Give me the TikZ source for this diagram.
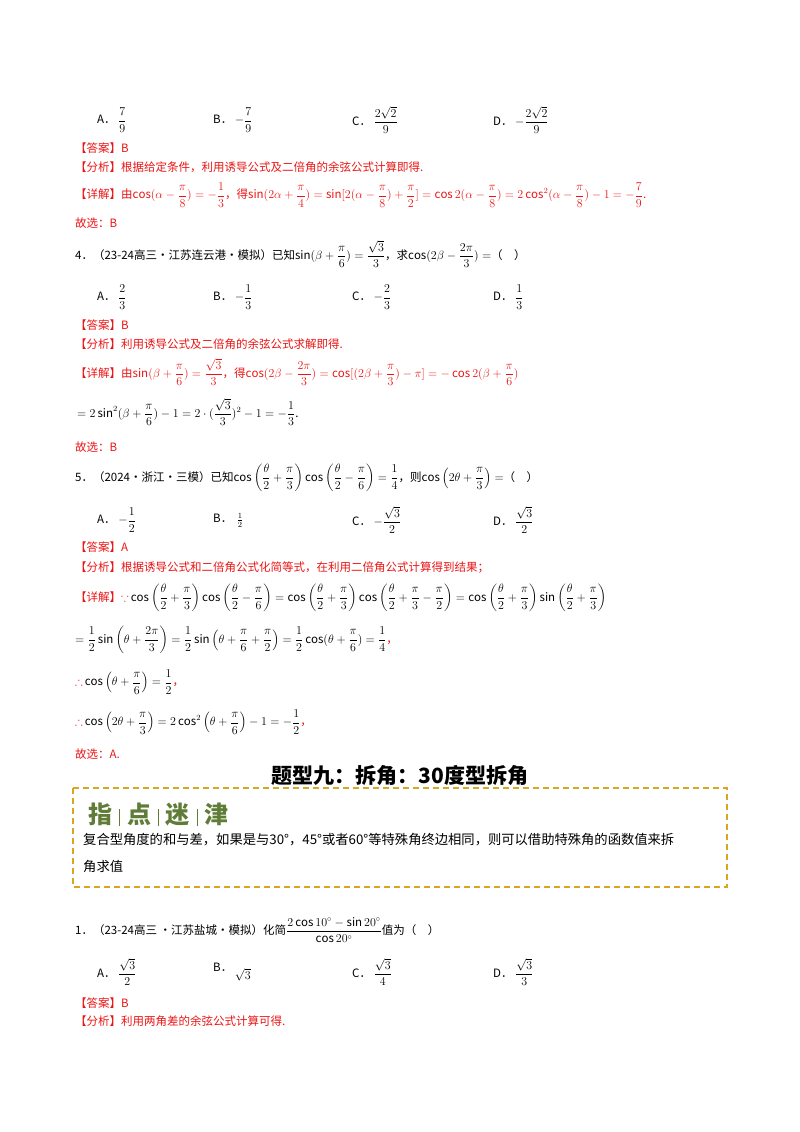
\documentclass[tikz,border=0pt]{standalone}
\usepackage{amsmath,amssymb}
\usepackage{fontspec}
\setmainfont{Noto Sans CJK SC}
\definecolor{ansred}{RGB}{235,20,20}
\definecolor{gold}{RGB}{218,165,32}
\definecolor{tipgreen}{RGB}{95,125,55}
\begin{document}
\begin{tikzpicture}[x=1pt,y=-1pt,
  t/.style={anchor=west,inner sep=0pt,font=\fontsize{11.5}{14}\selectfont},
  r/.style={t,text=ansred}]
\useasboundingbox (0,0) rectangle (800,1132);
\def\D{\displaystyle}
% options Q3
\node[t] (a1) at (97,120) {A．\ $\D\frac{7}{9}$};
\node[t] (b1) at (213,120) {B．\ $\D-\frac{7}{9}$};
\node[t] (c1) at (352,120) {C．\ $\D\frac{2\sqrt{2}}{9}$};
\node[t] (d1) at (493,120) {D．\ $\D-\frac{2\sqrt{2}}{9}$};
\node[r] (ans1) at (75,148) {【答案】B};
\node[r] (an1) at (75,167) {【分析】根据给定条件，利用诱导公式及二倍角的余弦公式计算即得.};
\node[r] (x1) at (75,195) {【详解】由$\D\cos(\alpha-\frac{\pi}{8})=-\frac{1}{3}$，得$\D\sin(2\alpha+\frac{\pi}{4})=\sin[2(\alpha-\frac{\pi}{8})+\frac{\pi}{2}]=\cos2(\alpha-\frac{\pi}{8})=2\cos^2(\alpha-\frac{\pi}{8})-1=-\frac{7}{9}$.};
\node[r] (g1) at (75,223) {故选：B};
% Q4
\node[t] (q4) at (75,254) {4．（23-24高三·江苏连云港·模拟）已知$\D\sin(\beta+\frac{\pi}{6})=\frac{\sqrt{3}}{3}$，求$\D\cos(2\beta-\frac{2\pi}{3})=$（\quad）};
\node[t] (a2) at (97,297) {A．\ $\D\frac{2}{3}$};
\node[t] (b2) at (213,297) {B．\ $\D-\frac{1}{3}$};
\node[t] (c2) at (352,297) {C．\ $\D-\frac{2}{3}$};
\node[t] (d2) at (493,297) {D．\ $\D\frac{1}{3}$};
\node[r] (ans2) at (75,325) {【答案】B};
\node[r] (an2) at (75,344) {【分析】利用诱导公式及二倍角的余弦公式求解即得.};
\node[r] (x2) at (75,372) {【详解】由$\D\sin(\beta+\frac{\pi}{6})=\frac{\sqrt{3}}{3}$，得$\D\cos(2\beta-\frac{2\pi}{3})=\cos[(2\beta+\frac{\pi}{3})-\pi]=-\cos2(\beta+\frac{\pi}{6})$};
\node[t] (x2b) at (77,412) {$\D=2\sin^2(\beta+\frac{\pi}{6})-1=2\cdot(\frac{\sqrt{3}}{3})^2-1=-\frac{1}{3}$.};
\node[r] (g2) at (75,447) {故选：B};
% Q5
\node[t] (q5) at (75,478) {5．（2024·浙江·三模）已知$\D\cos\left(\frac{\theta}{2}+\frac{\pi}{3}\right)\cos\left(\frac{\theta}{2}-\frac{\pi}{6}\right)=\frac{1}{4}$，则$\D\cos\left(2\theta+\frac{\pi}{3}\right)=$（\quad）};
\node[t] (a3) at (97,520) {A．\ $\D-\frac{1}{2}$};
\node[t] (b3) at (213,520) {B．\ \,$\frac{1}{2}$};
\node[t] (c3) at (352,520) {C．\ $\D-\frac{\sqrt{3}}{2}$};
\node[t] (d3) at (493,520) {D．\ $\D\frac{\sqrt{3}}{2}$};
\node[r] (ans3) at (75,547) {【答案】A};
\node[r] (an3) at (75,568) {【分析】根据诱导公式和二倍角公式化简等式，在利用二倍角公式计算得到结果；};
\node[r] (x3) at (75,598) {【详解】$\because$\,\textcolor{black}{$\D\cos\left(\frac{\theta}{2}+\frac{\pi}{3}\right)\cos\left(\frac{\theta}{2}-\frac{\pi}{6}\right)=\cos\left(\frac{\theta}{2}+\frac{\pi}{3}\right)\cos\left(\frac{\theta}{2}+\frac{\pi}{3}-\frac{\pi}{2}\right)=\cos\left(\frac{\theta}{2}+\frac{\pi}{3}\right)\sin\left(\frac{\theta}{2}+\frac{\pi}{3}\right)$}};
\node[t] (x3b) at (75,640) {$\D=\frac{1}{2}\sin\left(\theta+\frac{2\pi}{3}\right)=\frac{1}{2}\sin\left(\theta+\frac{\pi}{6}+\frac{\pi}{2}\right)=\frac{1}{2}\cos(\theta+\frac{\pi}{6})=\frac{1}{4}$\textcolor{ansred}{，}};
\node[t] (x3c) at (75,682) {\textcolor{ansred}{$\therefore$}\,$\D\cos\left(\theta+\frac{\pi}{6}\right)=\frac{1}{2}$\textcolor{ansred}{，}};
\node[t] (x3d) at (75,722) {\textcolor{ansred}{$\therefore$}\,$\D\cos\left(2\theta+\frac{\pi}{3}\right)=2\cos^2\left(\theta+\frac{\pi}{6}\right)-1=-\frac{1}{2}$\textcolor{ansred}{，}};
\node[r] (g3) at (75,754) {故选：A.};
% title
\node[inner sep=0pt,font=\fontsize{21}{24}\selectfont\bfseries] (title) at (400,776) {题型九：拆角：30度型拆角};
\draw[gold,line width=1.5pt,dash pattern=on 6pt off 4pt] (73,788) rectangle (727,887);
\node[t,text=tipgreen,font=\fontsize{24}{26}\selectfont\bfseries] (tip) at (88,815) {指\;\rule[-2pt]{1.5pt}{17pt}\;点\;\rule[-2pt]{1.5pt}{17pt}\;迷\;\rule[-2pt]{1.5pt}{17pt}\;津};
\node[t,font=\fontsize{13.3}{15}\selectfont] (tx1) at (83,840) {复合型角度的和与差，如果是与30°，45°或者60°等特殊角终边相同，则可以借助特殊角的函数值来拆};
\node[t,font=\fontsize{13.3}{15}\selectfont] (tx2) at (83,866) {角求值};
% Q1
\node[t] (q1) at (75,930) {1．（23-24高三 ·江苏盐城·模拟）化简$\D\frac{2\cos10^{\circ}-\sin20^{\circ}}{\cos20^{\circ}}$值为（\quad）};
\node[t] (a4) at (97,972) {A．\ $\D\frac{\sqrt{3}}{2}$};
\node[t] (b4) at (213,972) {B．\ \raisebox{-8pt}{$\sqrt{3}$}};
\node[t] (c4) at (352,972) {C．\ $\D\frac{\sqrt{3}}{4}$};
\node[t] (d4) at (493,972) {D．\ $\D\frac{\sqrt{3}}{3}$};
\node[r] (ans4) at (75,1003) {【答案】B};
\node[r] (an4) at (75,1021) {【分析】利用两角差的余弦公式计算可得.};
\end{tikzpicture}
\end{document}
